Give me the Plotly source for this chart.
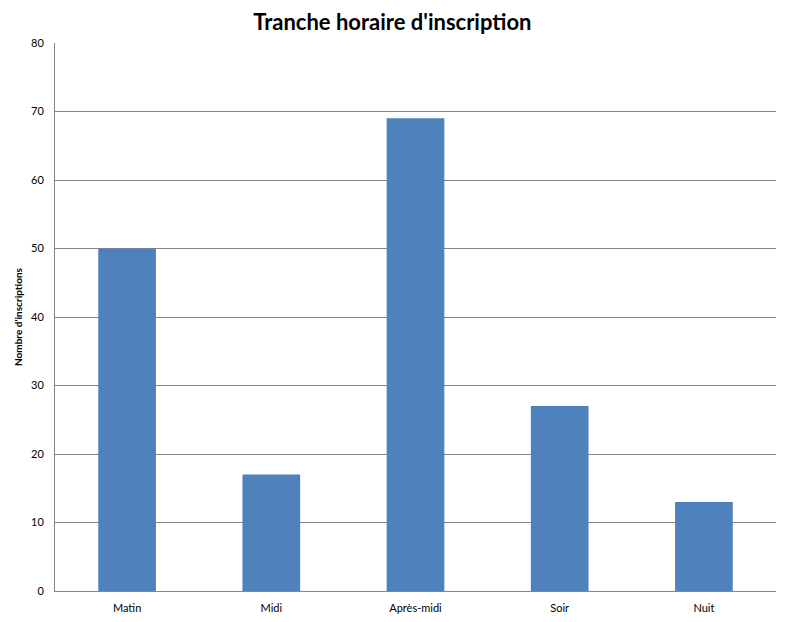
import plotly.graph_objects as go

# Tranches horaires et nombre d'inscriptions
tranches = ['Matin', 'Midi', 'Après-midi', 'Soir', 'Nuit']
inscriptions = [50, 17, 69, 27, 13]
y_ticks = [0, 10, 20, 30, 40, 50, 60, 70, 80]

fig = go.Figure()

fig.add_trace(go.Bar(
    x=tranches,
    y=inscriptions,
    marker=dict(color='#4F81BD', line=dict(width=0)),
    width=0.4
))

fig.update_layout(
    title=dict(
        text="<b>Tranche horaire d'inscription</b>",
        x=0.489, xanchor='center', y=0.99, yanchor='top',
        font=dict(family='Lato', size=22, color='black')
    ),
    width=786,
    height=622,
    plot_bgcolor='white',
    paper_bgcolor='white',
    showlegend=False,
    margin=dict(l=47, r=18, t=35, b=39),
    font=dict(family='Lato', size=11, color='black'),
    xaxis=dict(
        showline=True, linecolor='#868686', linewidth=1,
        ticks='', tickfont=dict(size=11), automargin=False,
        ticklabelstandoff=7,
        range=[-0.5, 4.5]
    ),
    yaxis=dict(
        range=[0, 80], tickvals=y_ticks, automargin=False,
        showgrid=True, gridcolor='#868686', gridwidth=1,
        showline=True, linecolor='#868686', linewidth=1,
        ticks='', ticklen=0, tickfont=dict(size=11),
        ticklabelstandoff=8,
        title=dict(text="<b>Nombre d'inscriptions</b>", font=dict(size=10), standoff=6),
        zeroline=False
    )
)

fig.write_html("out.html")
